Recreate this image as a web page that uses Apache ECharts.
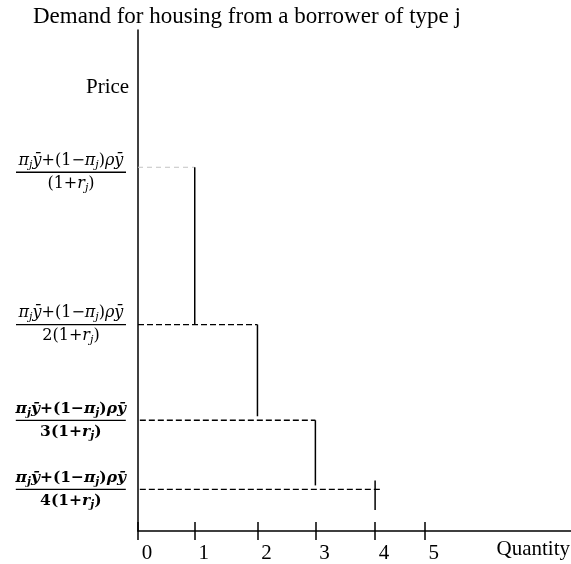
<!DOCTYPE html>
<html><head><meta charset="utf-8">
<script src="https://cdn.jsdelivr.net/npm/echarts@6/dist/echarts.min.js"></script>
<style>html,body{margin:0;padding:0;background:#fff}#c{width:571px;height:564px}</style>
</head><body><div id="c"></div>
<script>
// ---- data ----
const tickLabels = ['0', '1', '2', '3', '4', '5'];
const tickQ = [0, 0.95, 2.0, 2.97, 3.97, 4.8];          // quantity tick positions
const priceLevels = [72.6, 41.2, 22.1, 8.3];            // price levels (fraction labels)
const priceDenoms = ['', '2', '3', '4'];                // denominators' multipliers
const priceBold = [false, false, true, true];
const labelShift = [10, 0, 0, 0];                        // extra top space for label block
const stepQ = [0.95, 2.0, 2.97, 3.97];                  // where the vertical steps sit
const stepTop = [72.6, 41.2, 22.1, 10.1];
const stepBottom = [41.2, 22.9, 9.1, 4.2];
const dashStart = [0, 0, -0.12, -0.12];
const dashEnd = [0.95, 2.0, 2.97, 4.08];

const chart = echarts.init(document.getElementById('c'), null, {renderer: 'canvas'});

function seq(pieces, b) {
  return pieces.map(function (p) { return '{' + p[0] + b + '|' + p[1] + '}'; }).join('');
}
function fracLabel(i) {
  const b = priceBold[i] ? 'B' : '';
  const num = seq([['i', 'π'], ['s', 'j'], ['i', 'ȳ'], ['u', '+(1−'], ['i', 'π'], ['s', 'j'], ['u', ')'], ['i', 'ρȳ']], b);
  const den = seq([['u', priceDenoms[i] + '(1+'], ['i', 'r'], ['s', 'j'], ['u', ')']], b);
  const pre = labelShift[i] ? '{sp| }\n' : '';
  return pre + num + '\n{bar| }\n' + den;
}
const F = 'DejaVu Serif';
const baseI = {fontFamily: F, fontStyle: 'italic', fontSize: 16, lineHeight: 20, color: '#000', align: 'center'};
const baseU = {fontFamily: F, fontStyle: 'normal', fontSize: 16, lineHeight: 20, color: '#000', align: 'center'};
const baseS = {fontFamily: F, fontStyle: 'italic', fontSize: 11, lineHeight: 20, color: '#000', align: 'center', verticalAlign: 'bottom'};
const rich = {
  i: baseI, iB: Object.assign({}, baseI, {fontWeight: 'bold', fontSize: 15.5}),
  u: baseU, uB: Object.assign({}, baseU, {fontWeight: 'bold', fontSize: 15.5}),
  s: baseS, sB: Object.assign({}, baseS, {fontWeight: 'bold'}),
  bar: {width: 110, height: 1.3, lineHeight: 3, fontSize: 1, backgroundColor: '#000', align: 'center'},
  sp: {fontSize: 1, lineHeight: 10, height: 10, align: 'center'}
};

const series = [];
for (let i = 0; i < priceLevels.length; i++) {
  series.push({
    type: 'line', symbol: 'none', clip: false, silent: true,
    data: [[dashStart[i], priceLevels[i]], [dashEnd[i], priceLevels[i]]],
    lineStyle: i === 0 ? {color: '#c4c4c4', width: 1, type: [5, 4]} : {color: '#000', width: 1.4, type: [6, 3]}
  });
  series.push({
    type: 'line', symbol: 'none', clip: false, silent: true,
    data: [[stepQ[i], stepTop[i]], [stepQ[i], stepBottom[i]]],
    lineStyle: {color: '#000', width: 1.5}
  });
}

chart.setOption({
  animation: false,
  backgroundColor: '#fff',
  title: [
    {text: 'Demand for housing from a borrower of type j', left: 33, top: 5, padding: 0,
     textStyle: {fontFamily: 'Liberation Serif', fontSize: 23, fontWeight: 'normal', color: '#000'}},
    {text: 'Price', left: 86, top: 77, padding: 0,
     textStyle: {fontFamily: 'Liberation Serif', fontSize: 21, fontWeight: 'normal', color: '#000'}},
    {text: 'Quantity', right: 1, top: 539, padding: 0,
     textStyle: {fontFamily: 'Liberation Serif', fontSize: 21, fontWeight: 'normal', color: '#000'}}
  ],
  grid: {left: 138, right: 0, top: 30, bottom: 31},
  xAxis: [{
    type: 'value', min: 0, max: 7.25,
    axisLine: {show: true, lineStyle: {color: '#000', width: 1.5}},
    splitLine: {show: false},
    axisTick: {show: true, length: 9, customValues: tickQ, lineStyle: {color: '#000', width: 1.5}},
    axisLabel: {
      customValues: tickQ, margin: 12, padding: [0, 0, 0, 18],
      fontFamily: 'Liberation Serif', fontSize: 21, color: '#000',
      formatter: function (v) { const k = tickQ.indexOf(v); return k >= 0 ? tickLabels[k] : ''; }
    }
  }, {
    type: 'value', min: 0, max: 7.25, position: 'bottom', gridIndex: 0,
    axisLine: {show: false}, splitLine: {show: false}, axisLabel: {show: false},
    axisTick: {show: true, inside: true, length: 9, customValues: tickQ, lineStyle: {color: '#000', width: 1.5}}
  }],
  yAxis: {
    type: 'value', min: 0, max: 100,
    axisLine: {show: true, lineStyle: {color: '#000', width: 1.5}},
    splitLine: {show: false}, axisTick: {show: false},
    axisLabel: {
      customValues: priceLevels, margin: 12, rich: rich,
      formatter: function (v) { const k = priceLevels.indexOf(v); return k >= 0 ? fracLabel(k) : ''; }
    }
  },
  series: series
});
</script></body></html>
